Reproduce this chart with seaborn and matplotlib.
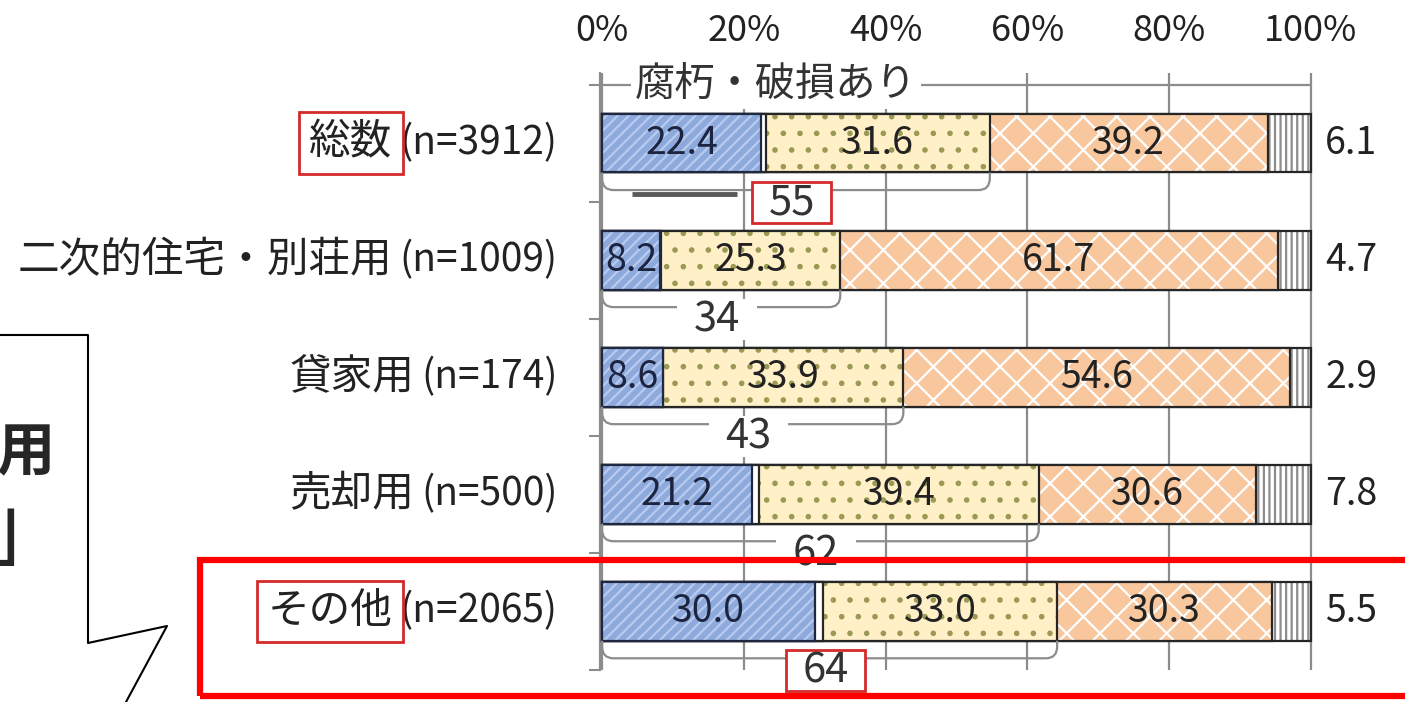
import numpy as np
import pandas as pd
import seaborn as sns
import matplotlib.pyplot as plt
from matplotlib.path import Path
from matplotlib.patches import PathPatch, Rectangle
from matplotlib.lines import Line2D

# data
categories = ['総数', '二次的住宅・別荘用', '貸家用', '売却用', 'その他']
counts = ['(n=3912)', '(n=1009)', '(n=174)', '(n=500)', '(n=2065)']
name_boxed = [True, False, False, False, True]
blue = [22.4, 8.2, 8.6, 21.2, 30.0]
gap = [0.7, 0.1, 0.0, 1.0, 1.2]
yellow = [31.6, 25.3, 33.9, 39.4, 33.0]
orange = [39.2, 61.7, 54.6, 30.6, 30.3]
gray = [6.1, 4.7, 2.9, 7.8, 5.5]
bracket_vals = [55, 34, 43, 62, 64]
bracket_boxed = [True, False, False, False, True]
xticks = [0, 20, 40, 60, 80, 100]
top_label = '腐朽・破損あり'

sns.set_style('white')
plt.rcParams['font.family'] = ['Noto Sans CJK JP', 'DejaVu Sans']
plt.rcParams['hatch.linewidth'] = 1.6

df = pd.DataFrame({'cat': categories, 'blue': blue, 'gap': gap,
                   'yellow': yellow, 'orange': orange, 'gray': gray})
df['c_blue'] = df['blue']
df['c_gap'] = df['c_blue'] + df['gap']
df['c_yellow'] = df['c_gap'] + df['yellow']
df['c_orange'] = df['c_yellow'] + df['orange']
df['c_gray'] = df['c_orange'] + df['gray']

W, H = 1405, 702
fig = plt.figure(figsize=(W / 100, H / 100), dpi=100)
ax = fig.add_axes([600 / W, 1 - 670 / H, 713 / W, 597 / H])

# (column, fill, hatch colour, hatch, outline)
layers = [
    ('c_gray', '#ffffff', '#8c8c8c', '|||', '#262626'),
    ('c_orange', '#f8c79e', '#ffffff', 'x', '#262626'),
    ('c_yellow', '#fff0c8', '#9a9a55', '.', '#262626'),
    ('c_gap', '#ffffff', '#ffffff', '', '#262626'),
    ('c_blue', '#8eaadc', '#b8cbee', '///', '#1f2840'),
]
z = 2
for col, fc, hc, hatch, oc in layers:
    sns.barplot(data=df, x=col, y='cat', orient='h', color=fc, saturation=1,
                width=0.5, ax=ax)
    for p in ax.containers[-1]:
        p.set_facecolor(fc)
        p.set_edgecolor(hc)
        p.set_linewidth(0)
        p.set_hatch(hatch)
        p.set_zorder(z)
        ax.add_patch(Rectangle(p.get_xy(), p.get_width(), p.get_height(),
                               fill=False, ec=oc, lw=1.6, zorder=z + 0.5))
    z += 1

fs = 27
# values inside segments
for i, r in df.iterrows():
    ax.text(r['blue'] / 2, i, f"{r['blue']:.1f}", ha='center', va='center',
            fontsize=fs, color='#1c2440', zorder=20)
    ax.text(r['c_gap'] + r['yellow'] / 2, i, f"{r['yellow']:.1f}", ha='center',
            va='center', fontsize=fs, color='#222222', zorder=20)
    ax.text(r['c_yellow'] + r['orange'] / 2, i, f"{r['orange']:.1f}", ha='center',
            va='center', fontsize=fs, color='#222222', zorder=20)
    ax.text(102.0, i, f"{r['gray']:.1f}", ha='left', va='center',
            fontsize=fs, color='#222222', clip_on=False, zorder=20)

# brackets under the first segments
for i, r in df.iterrows():
    x1 = r['c_yellow']
    yb, yl, rx, ry = i + 0.25, i + 0.40, 1.6, 0.1
    verts = [(0, yb), (0, yl - ry), (0, yl), (rx, yl), (x1 - rx, yl),
             (x1, yl), (x1, yl - ry), (x1, yb)]
    codes = [Path.MOVETO, Path.LINETO, Path.CURVE3, Path.CURVE3, Path.LINETO,
             Path.CURVE3, Path.CURVE3, Path.LINETO]
    ax.add_patch(PathPatch(Path(verts, codes), fill=False, ec='#8c8c8c',
                           lw=1.6, zorder=12, clip_on=False))
    ec = '#d42a2a' if bracket_boxed[i] else 'none'
    ax.add_patch(Rectangle((x1 / 2 - 6.2, i + 0.505 - 0.175), 11.2, 0.35,
                           fc='white', ec=ec, lw=2, zorder=13, clip_on=False))
    ax.text(x1 / 2 - 0.6, i + 0.51, str(bracket_vals[i]), ha='center', va='center',
            fontsize=30, color='#333333', zorder=14)

ax.plot([4.2, 19], [0.43, 0.43], color='#5a5a5a', lw=3.5, zorder=12.5,
        solid_capstyle='butt')

# top bracket line
ax.plot([0, 100], [-0.5, -0.5], color='#8c8c8c', lw=1.6, zorder=1, clip_on=False)
ax.text(24.5, -0.5, top_label, ha='center', va='center', fontsize=29,
        color='#333333', zorder=5, bbox=dict(boxstyle='square,pad=0.1', fc='white', ec='none'))

# category labels
for i in range(len(categories)):
    nt = ax.text(-6.3, i, counts[i], ha='right', va='center', fontsize=28,
                 color='#222222', clip_on=False)
    bb = dict(boxstyle='square,pad=0.25', fc='none', ec='#d42a2a', lw=2) if name_boxed[i] else None
    ax.annotate(categories[i], xy=(0, 0.5), xycoords=nt, xytext=(-5, 0),
                textcoords='offset points', ha='right', va='center',
                fontsize=30, color='#222222', bbox=bb)

ax.set_xlim(-0.3, 100.3)
ax.set_ylim(4.5, -0.6)
ax.set_xlabel('')
ax.set_ylabel('')
ax.xaxis.tick_top()
ax.set_xticks(xticks)
ax.set_xticklabels([f'{v}%' for v in xticks], fontsize=26, color='#222222')
ax.tick_params(axis='x', length=0, pad=17)
ax.set_yticks(range(5))
ax.set_yticklabels([''] * 5)
ax.set_yticks(np.arange(-0.5, 5, 1), minor=True)
ax.tick_params(axis='y', which='major', length=0)
ax.tick_params(axis='y', which='minor', length=8, width=1.5, color='#8c8c8c', left=True)
ax.grid(axis='x', color='#8c8c8c', lw=1.6)
ax.set_axisbelow(True)
for s in ['top', 'right', 'bottom']:
    ax.spines[s].set_visible(False)
ax.spines['left'].set_color('#8c8c8c')
ax.spines['left'].set_linewidth(1.6)

# highlight frame and callout
fig.add_artist(Rectangle((200 / W, 1 - 696 / H), 1220 / W, 136 / H,
                         transform=fig.transFigure, fill=False, ec='#ff0000', lw=4.5, zorder=30))
px = [0, 88, 88, 167, 126]
py = [335, 335, 643, 626, 702]
fig.add_artist(Line2D([x / W for x in px], [1 - y / H for y in py],
                      transform=fig.transFigure, color='black', lw=1.5))
fig.text(26 / W, 1 - 453 / H, '用', fontsize=42, weight='bold', ha='center', va='center')
fig.text(27 / W, 1 - 558 / H, '」', fontsize=64, ha='center', va='baseline')

fig.savefig('out.png', dpi=100)
